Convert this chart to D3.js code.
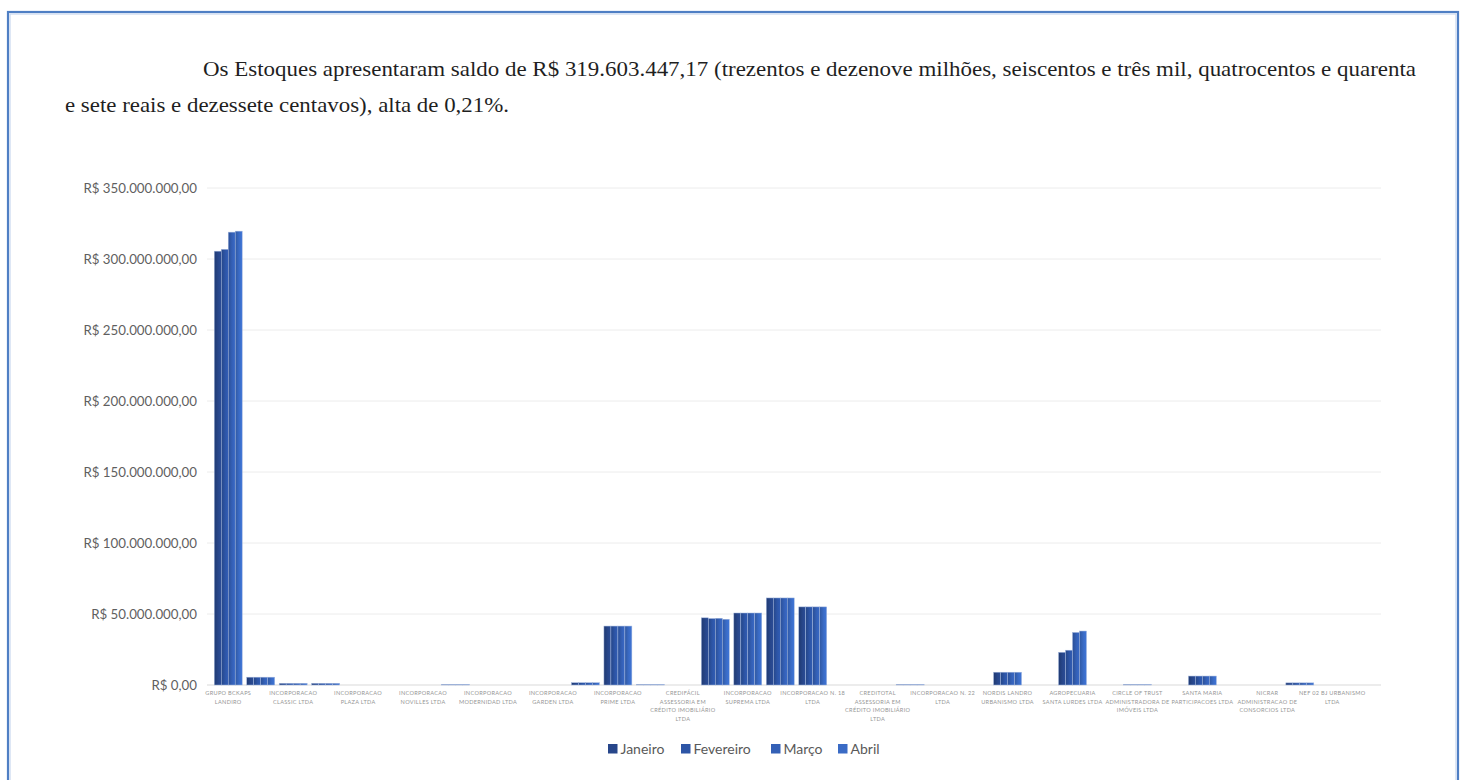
<!DOCTYPE html>
<html lang="pt-BR">
<head>
<meta charset="utf-8">
<script src="https://cdn.jsdelivr.net/npm/d3@7"></script>
<style>
  html, body { margin: 0; padding: 0; background: #ffffff; }
  svg { display: block; }
</style>
</head>
<body>
<svg id="chart" width="1461" height="780"></svg>
<script>
// Empresas do grupo (rótulos exibidos em categorias alternadas; null = rótulo oculto)
const categories = [
  ["GRUPO BCKAPS", "LANDIRO"], null,
  ["INCORPORACAO", "CLASSIC LTDA"], null,
  ["INCORPORACAO", "PLAZA LTDA"], null,
  ["INCORPORACAO", "NOVILLES LTDA"], null,
  ["INCORPORACAO", "MODERNIDAD LTDA"], null,
  ["INCORPORACAO", "GARDEN LTDA"], null,
  ["INCORPORACAO", "PRIME LTDA"], null,
  ["CREDIFÁCIL", "ASSESSORIA EM", "CRÉDITO IMOBILIÁRIO", "LTDA"], null,
  ["INCORPORACAO", "SUPREMA LTDA"], null,
  ["INCORPORACAO N. 18", "LTDA"], null,
  ["CREDITOTAL", "ASSESSORIA EM", "CRÉDITO IMOBILIÁRIO", "LTDA"], null,
  ["INCORPORACAO N. 22", "LTDA"], null,
  ["NORDIS LANDRO", "URBANISMO LTDA"], null,
  ["AGROPECUARIA", "SANTA LURDES LTDA"], null,
  ["CIRCLE OF TRUST", "ADMINISTRADORA DE", "IMÓVEIS LTDA"], null,
  ["SANTA MARIA", "PARTICIPACOES LTDA"], null,
  ["NICRAR", "ADMINISTRACAO DE", "CONSORCIOS LTDA"], null,
  ["NEF 02 BJ URBANISMO", "LTDA"], null
];

const months = ["Janeiro", "Fevereiro", "Março", "Abril"];

// Saldo de estoques por empresa, em milhões de R$
const janeiro   = [305.5, 5.5, 1.2, 1.2, 0, 0, 0, 0.3, 0, 0, 0, 1.6, 41.5, 0.3, 0, 47.3, 50.7, 61.3, 55.0, 0, 0, 0.3, 0, 0, 9.0, 0, 23.0, 0, 0.3, 0, 6.3, 0, 0, 1.5, 0, 0];
const fevereiro = [306.8, 5.5, 1.2, 1.2, 0, 0, 0, 0.3, 0, 0, 0, 1.6, 41.5, 0.3, 0, 46.8, 50.7, 61.3, 55.0, 0, 0, 0.3, 0, 0, 9.0, 0, 24.5, 0, 0.3, 0, 6.3, 0, 0, 1.5, 0, 0];
const marco     = [318.9, 5.5, 1.2, 1.2, 0, 0, 0, 0.3, 0, 0, 0, 1.6, 41.5, 0.3, 0, 47.0, 50.7, 61.3, 55.0, 0, 0, 0.3, 0, 0, 9.0, 0, 37.0, 0, 0.3, 0, 6.3, 0, 0, 1.5, 0, 0];
const abril     = [319.6, 5.5, 1.2, 1.2, 0, 0, 0, 0.3, 0, 0, 0, 1.6, 41.5, 0.3, 0, 46.3, 50.7, 61.3, 55.0, 0, 0, 0.3, 0, 0, 9.0, 0, 38.0, 0, 0.3, 0, 6.3, 0, 0, 1.5, 0, 0];

const yTicks = [0, 50, 100, 150, 200, 250, 300, 350];

const seriesColors = ["#27468a", "#2d55a6", "#3460b6", "#3a6bc5"];

const svg = d3.select("#chart");

// Moldura da página
svg.append("rect")
  .attr("x", 8).attr("y", 12).attr("width", 1450).attr("height", 800)
  .attr("fill", "none").attr("stroke", "#4f7fc4").attr("stroke-width", 2.2);
svg.append("rect")
  .attr("x", 10).attr("y", 14).attr("width", 1446).attr("height", 796)
  .attr("fill", "none").attr("stroke", "#c9d8ee").attr("stroke-width", 1.2);

// Parágrafo
const para = svg.append("g")
  .attr("font-family", "'Liberation Serif', 'Times New Roman', serif")
  .attr("font-size", 22).attr("fill", "#1f1f1f");
para.append("text").attr("x", 203).attr("y", 76)
  .attr("textLength", 1213).attr("lengthAdjust", "spacingAndGlyphs")
  .text("Os Estoques apresentaram saldo de R$ 319.603.447,17 (trezentos e dezenove milhões, seiscentos e três mil, quatrocentos e quarenta");
para.append("text").attr("x", 65).attr("y", 112)
  .attr("textLength", 444).attr("lengthAdjust", "spacingAndGlyphs")
  .text("e sete reais e dezessete centavos), alta de 0,21%.");

// Escalas
const x0 = d3.scaleBand()
  .domain(d3.range(categories.length))
  .range([212, 1381])
  .paddingInner(0.14).paddingOuter(0.07);
const x1 = d3.scaleBand().domain(months).range([0, x0.bandwidth()]).padding(0);
const y = d3.scaleLinear().domain([0, 350]).range([685, 188]);

const fmt = v => "R$ " + (v === 0 ? "0,00" :
  d3.format(",")(v * 1e6).replace(/,/g, ".") + ",00");

// Grade
svg.append("g").selectAll("line").data(yTicks).join("line")
  .attr("x1", 207).attr("x2", 1381)
  .attr("y1", d => y(d)).attr("y2", d => y(d))
  .attr("stroke", d => d === 0 ? "#d9d9d9" : "#ececec").attr("stroke-width", 1);

// Eixo Y
const yAxis = svg.append("g").attr("transform", "translate(197,0)")
  .call(d3.axisLeft(y).tickValues(yTicks).tickSize(0).tickPadding(0).tickFormat(fmt));
yAxis.select(".domain").remove();
yAxis.selectAll("text")
  .attr("font-family", "Lato, 'Open Sans', sans-serif")
  .attr("font-size", 13.3).attr("fill", "#5f5f5f");

// Gradientes das barras
const defs = svg.append("defs");
months.forEach((m, i) => {
  const g = defs.append("linearGradient").attr("id", "grad" + i)
    .attr("x1", "0%").attr("x2", "100%").attr("y1", "0%").attr("y2", "0%");
  const c = d3.color(seriesColors[i]);
  g.append("stop").attr("offset", "0%").attr("stop-color", c.darker(0.55));
  g.append("stop").attr("offset", "55%").attr("stop-color", c);
  g.append("stop").attr("offset", "100%").attr("stop-color", c.brighter(0.25));
});

// Barras
const series = [janeiro, fevereiro, marco, abril];
const groups = svg.append("g").selectAll("g").data(categories.map((c, i) => i)).join("g")
  .attr("transform", i => `translate(${x0(i)},0)`);
groups.selectAll("rect")
  .data(i => months.map((m, k) => ({ k, m, v: series[k][i] })).filter(d => d.v > 0))
  .join("rect")
  .attr("x", d => x1(d.m))
  .attr("width", x1.bandwidth())
  .attr("y", d => y(d.v))
  .attr("height", d => y(0) - y(d.v))
  .attr("fill", d => `url(#grad${d.k})`)
  .attr("stroke", "#9fb4dc").attr("stroke-width", 0.5);

// Rótulos das categorias
const xl = svg.append("g")
  .attr("font-family", "Lato, 'Open Sans', sans-serif")
  .attr("font-size", 5.6).attr("fill", "#959595").attr("text-anchor", "middle");
categories.forEach((lines, i) => {
  if (!lines) return;
  const cx = x0(i) + x0.bandwidth() / 2;
  const t = xl.append("text").attr("x", cx).attr("y", 695).attr("letter-spacing", 0.3);
  lines.forEach((s, j) => t.append("tspan").attr("x", cx).attr("dy", j === 0 ? 0 : 8.6).text(s));
});

// Legenda
const legendX = [608, 681, 771, 838];
const lg = svg.append("g").selectAll("g").data(months).join("g")
  .attr("transform", (d, i) => `translate(${legendX[i]},744)`);
lg.append("rect").attr("width", 9.5).attr("height", 9.5).attr("fill", (d, i) => seriesColors[i]);
lg.append("text").attr("x", 12.5).attr("y", 9.5)
  .attr("font-family", "Lato, 'Open Sans', sans-serif")
  .attr("font-size", 14).attr("fill", "#595959").text(d => d);
</script>
</body>
</html>
